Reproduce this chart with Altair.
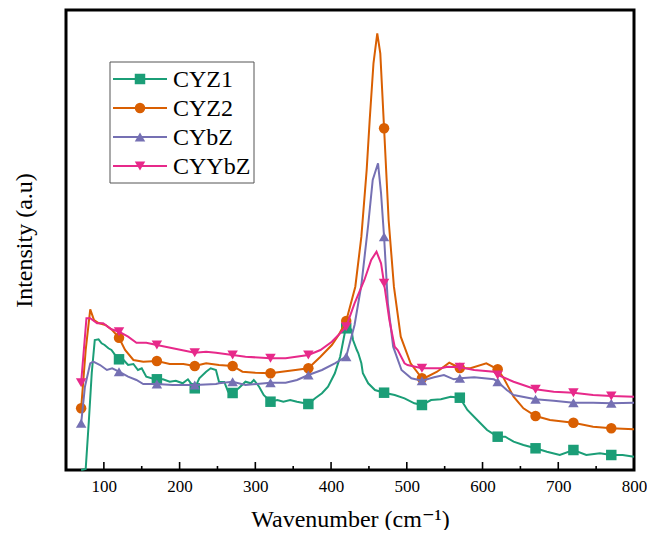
import altair as alt
import pandas as pd

series = ["CYZ1", "CYZ2", "CYbZ", "CYYbZ"]
colors = ["#1b9e77", "#d95f02", "#7570b3", "#e7298a"]
shapes = ["square", "circle", "triangle-up", "triangle-down"]
marker_x = [70, 120, 170, 220, 270, 320, 370, 420, 470, 520, 570, 620, 670, 720, 770]

cyz1_x = [70, 76, 80, 84, 88, 93, 97, 101, 106, 110, 115, 120, 126, 132, 139, 145, 150, 156, 163, 170,
          178, 187, 195, 204, 211, 220, 226, 235, 241, 248, 252, 259, 264, 270, 278, 287, 294, 298, 305, 311,
          320, 329, 337, 346, 355, 370, 379, 388, 396, 405, 412, 418, 420, 423, 427, 429, 434, 436, 440, 442,
          449, 458, 470, 484, 497, 510, 520, 532, 545, 558, 570, 580, 593, 606, 620, 630, 641, 654, 670, 685,
          702, 720, 737, 755, 770, 785, 800]
cyz1_y = [0, 1, 47, 97, 130, 130.7, 126.7, 125, 121.7, 120, 115, 110.7, 110, 105, 106, 100, 101.7, 93.3, 91.7, 90.7,
          90.7, 88.3, 89.3, 86.7, 90.7, 81.7, 91.7, 98.3, 101.7, 100, 88.3, 88, 78.3, 77, 81.7, 88.3, 86.7, 90, 83.3, 75,
          68.3, 70, 68.3, 70, 68.3, 66, 71.7, 76.7, 83.3, 96.7, 113.3, 136.7, 141.7, 143.3, 140, 130, 120, 116.7, 106.7, 96.7,
          86.7, 80, 77.3, 75, 71.7, 66.7, 65, 70, 70.7, 73.3, 72.3, 60, 50, 40, 33.3, 33.3, 28.3, 25, 21.7, 18.3,
          15, 20, 15, 16.7, 15, 15, 13.3]

cyz2_x = [70, 76, 82, 87, 93, 102, 111, 120, 128, 139, 152, 170, 187, 205, 220, 235, 252, 270, 283, 300,
          320, 335, 353, 370, 386, 401, 410, 420, 432, 440, 447, 451, 456, 461, 465, 470, 476, 483, 492, 505,
          520, 527, 540, 556, 562, 570, 584, 605, 620, 628, 641, 654, 670, 689, 720, 746, 770, 800]
cyz2_y = [61.7, 120, 160.7, 150, 147, 145, 140, 132.3, 120, 110, 108.3, 109, 106, 106, 104, 106.7, 105, 104, 98.3, 97.3,
          96.7, 98.3, 100, 101.7, 113.3, 125, 135, 149, 183.3, 233.3, 300, 350, 406.7, 436.7, 416.7, 341.7, 250, 183.3, 133.3, 106.7,
          91.7, 93.3, 98.3, 107.3, 105, 102, 101.7, 106.7, 100.7, 91.7, 73.3, 61.7, 54, 50, 47.3, 43.3, 41.7, 40.7]

cybz_x = [70, 75, 82, 86, 95, 104, 111, 120, 132, 143, 152, 170, 191, 220, 248, 252, 270, 287, 320, 340,
          355, 370, 388, 405, 420, 431, 440, 449, 455, 462, 466, 470, 475, 482, 493, 506, 520, 536, 549, 562,
          570, 589, 615, 620, 632, 641, 670, 694, 720, 746, 770, 800]
cybz_y = [46.7, 83.3, 106.7, 108.3, 105, 100, 101.7, 98.3, 93.3, 90, 86, 86, 85, 85, 86, 86.7, 88.3, 85, 87.3, 87.3,
          90, 95, 100, 106.7, 113.3, 145, 185, 245, 290, 306.7, 276.7, 233.3, 166.7, 123.3, 100, 91.7, 89.3, 92.7, 95, 90.7,
          91.7, 92.7, 90.7, 88.3, 80, 75, 70.7, 69.3, 67.3, 67.3, 66.7, 67.3]

cyybz_x = [70, 77, 82, 91, 99, 110, 120, 132, 143, 156, 170, 191, 220, 235, 248, 270, 287, 320, 340, 370,
           386, 401, 412, 420, 431, 444, 453, 460, 466, 470, 477, 484, 488, 497, 501, 520, 545, 554, 570, 589,
           615, 620, 641, 670, 694, 720, 746, 770, 800]
cyybz_y = [87.3, 151.7, 151.7, 146.7, 146.7, 140.7, 138.3, 133.3, 127.3, 127.3, 125, 121.7, 117.3, 118.3, 117.3, 115, 113.3, 111.7, 111.7, 115,
           120, 128.3, 136.7, 143.3, 166.7, 190, 210, 218.3, 206.7, 186.7, 150, 123.3, 120, 106.7, 105, 101.7, 101.7, 103.3, 102.7, 100,
           98.3, 95, 88.3, 80.7, 78.3, 77.3, 75, 74, 73.3]

xs = {"CYZ1": cyz1_x, "CYZ2": cyz2_x, "CYbZ": cybz_x, "CYYbZ": cyybz_x}
ys = {"CYZ1": cyz1_y, "CYZ2": cyz2_y, "CYbZ": cybz_y, "CYYbZ": cyybz_y}

major_ticks = [100, 200, 300, 400, 500, 600, 700, 800]
minor_ticks = [150, 250, 350, 450, 550, 650, 750]

FONT = "'Liberation Serif', 'DejaVu Serif', serif"
x_scale = alt.Scale(domain=[50, 800], nice=False, zero=False)
y_scale = alt.Scale(domain=[0, 460], nice=False, zero=False)
color_scale = alt.Scale(domain=series, range=colors)
shape_scale = alt.Scale(domain=series, range=shapes)

x_axis = alt.Axis(values=major_ticks, title="Wavenumber (cm\u207b\u00b9)", labelPadding=8,
                  titlePadding=13, ticks=False, domain=False, grid=False, labelFlush=False)
y_axis = alt.Axis(labels=False, ticks=False, domain=False, grid=False,
                  title="Intensity (a.u)", titlePadding=30)

layers = []
for s in series:
    rows = []
    for x, y in zip(xs[s], ys[s]):
        m = 1 if (x in marker_x and not (s == "CYZ1" and x == 70)) else 0
        rows.append({"x": x, "y": y, "s": s, "m": m})
    d = pd.DataFrame(rows)
    base = alt.Chart(d)
    line = base.mark_line(strokeWidth=2).encode(
        x=alt.X("x:Q", scale=x_scale, axis=x_axis),
        y=alt.Y("y:Q", scale=y_scale, axis=y_axis),
        color=alt.Color("s:N", scale=color_scale, legend=None),
    )
    pts = base.transform_filter(alt.datum.m == 1).mark_point(filled=True, size=110, opacity=1).encode(
        x=alt.X("x:Q", scale=x_scale, axis=x_axis),
        y=alt.Y("y:Q", scale=y_scale, axis=y_axis),
        color=alt.Color("s:N", scale=color_scale, legend=None),
        shape=alt.Shape("s:N", scale=shape_scale, legend=None),
    )
    layers += [line, pts]

maj = alt.Chart(pd.DataFrame({"t": major_ticks})).mark_rule(color="black", strokeWidth=1.6).encode(
    x=alt.X("t:Q", scale=x_scale, axis=x_axis), y=alt.value(460), y2=alt.value(452))
mnr = alt.Chart(pd.DataFrame({"t": minor_ticks})).mark_rule(color="black", strokeWidth=1.6).encode(
    x=alt.X("t:Q", scale=x_scale, axis=x_axis), y=alt.value(460), y2=alt.value(456))
layers += [maj, mnr]

one = pd.DataFrame({"a": [0]})
box = alt.Chart(one).mark_rect(fill="white", stroke="#555555", strokeWidth=1).encode(
    x=alt.value(44), x2=alt.value(188), y=alt.value(52), y2=alt.value(173))
layers.append(box)
for i, s in enumerate(series):
    ly = 69 + i * 29
    ld = pd.DataFrame({"s": [s]})
    lb = alt.Chart(ld)
    layers.append(lb.mark_rule(strokeWidth=2).encode(
        x=alt.value(47), x2=alt.value(101), y=alt.value(ly),
        color=alt.Color("s:N", scale=color_scale, legend=None)))
    layers.append(lb.mark_point(filled=True, size=110, opacity=1).encode(
        x=alt.value(74), y=alt.value(ly),
        color=alt.Color("s:N", scale=color_scale, legend=None),
        shape=alt.Shape("s:N", scale=shape_scale, legend=None)))
    layers.append(lb.mark_text(align="left", baseline="middle", font=FONT, fontSize=24, color="black").encode(
        x=alt.value(107), y=alt.value(ly + 1), text="s:N"))

chart = alt.layer(*layers).properties(
    width=568, height=460, autosize="none",
    padding={"left": 58, "top": 2, "right": 13, "bottom": 60},
    background="white",
).configure_view(stroke="black", strokeWidth=3).configure_axis(
    labelFont=FONT, labelFontSize=17, labelColor="black",
    titleFont=FONT, titleFontSize=24, titleFontWeight="normal", titleColor="black",
)

chart.save("out.html", embed_options={"renderer": "svg", "actions": False})
